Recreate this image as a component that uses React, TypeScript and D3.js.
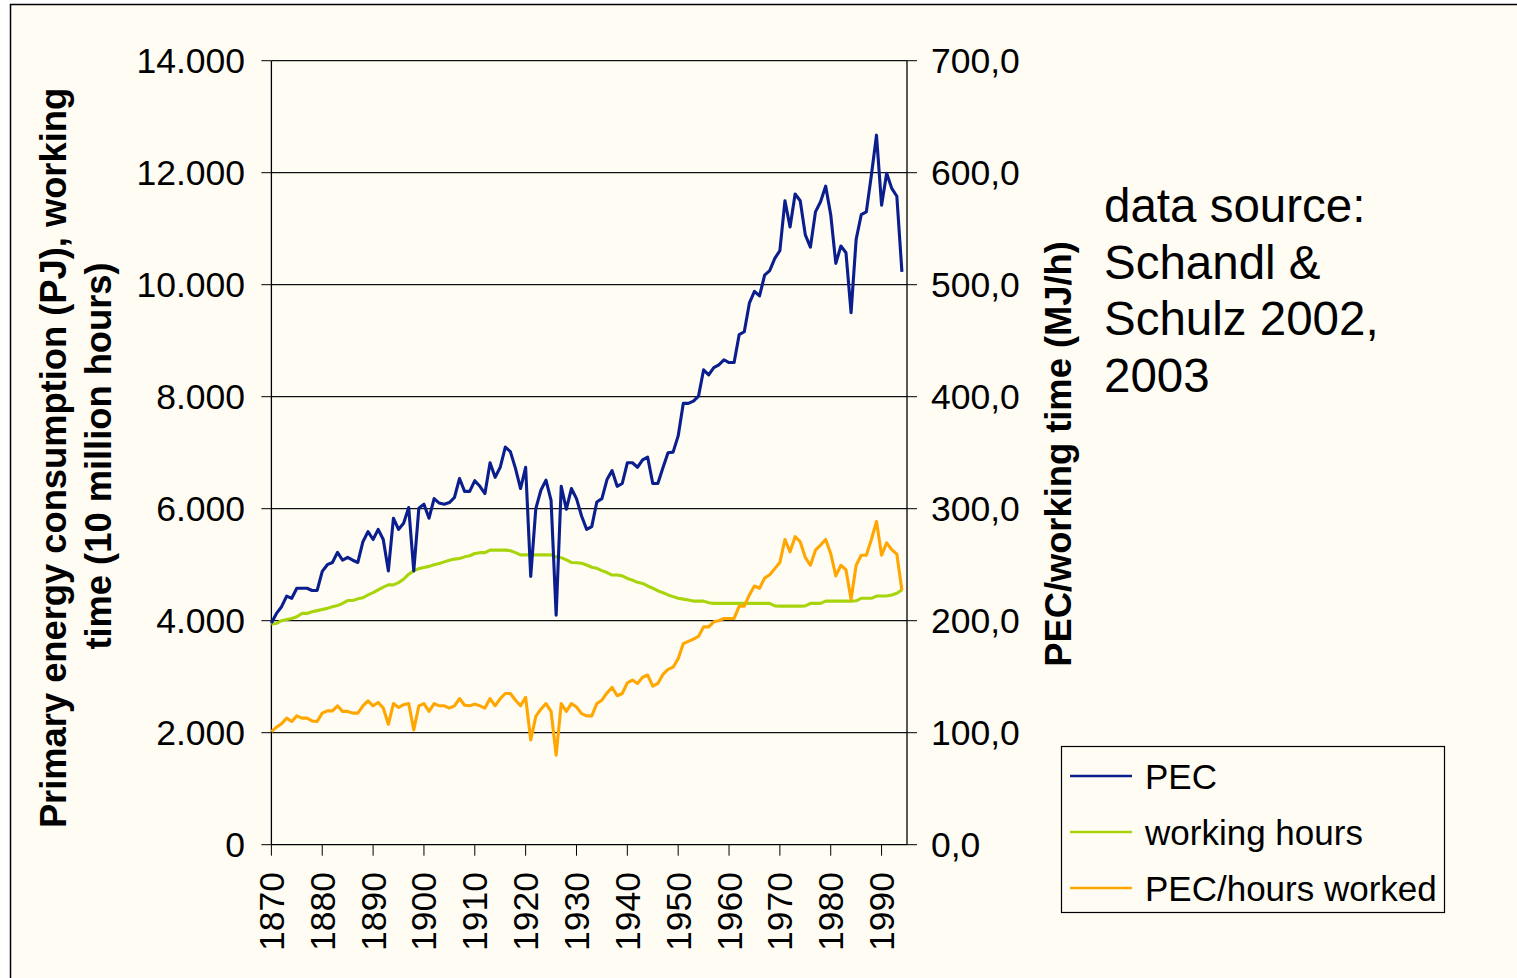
import React, { useEffect } from 'react';
import * as d3 from 'd3';

const startYear = 1870;

// PEC, PJ (left axis)
const pec = [
  3960, 4130, 4250, 4440, 4400, 4580, 4580, 4580, 4540, 4540,
  4880, 5000, 5040, 5220, 5080, 5130, 5080, 5040, 5410, 5590,
  5450, 5630, 5450, 4890, 5830, 5630, 5740, 6020, 4890, 6010,
  6080, 5830, 6180, 6100, 6080, 6110, 6200, 6540, 6310, 6310,
  6500, 6400, 6270, 6820, 6560, 6740, 7100, 7020, 6720, 6360,
  6740, 4790, 6000, 6330, 6510, 6150, 4100, 6400, 5990, 6360,
  6180, 5870, 5630, 5680, 6120, 6180, 6520, 6680, 6400, 6450,
  6820, 6820, 6740, 6870, 6920, 6450, 6450, 6730, 7000, 7010,
  7300, 7880, 7880, 7920, 8010, 8480, 8390, 8520, 8570, 8660,
  8610, 8610, 9110, 9160, 9670, 9880, 9800, 10170, 10250, 10470,
  10610, 11500, 11030, 11620, 11500, 10890, 10670, 11300, 11480, 11760,
  11250, 10380, 10690, 10570, 9500, 10810, 11250, 11300, 11960, 12670,
  11420, 11990, 11720, 11580, 10230,
];

// working hours, 10 million hours (left axis)
const workingHours = [
  3940, 3950, 4000, 4020, 4040, 4070, 4130, 4130, 4160, 4180,
  4200, 4220, 4250, 4270, 4310, 4360, 4360, 4390, 4410, 4460,
  4500, 4550, 4600, 4640, 4640, 4680, 4740, 4830, 4890, 4930,
  4950, 4970, 5000, 5020, 5050, 5080, 5100, 5110, 5140, 5160,
  5200, 5215, 5215, 5260, 5260, 5260, 5260, 5250, 5215, 5175,
  5175, 5175, 5175, 5175, 5175, 5175, 5140, 5125, 5085, 5040,
  5035, 5025, 4995, 4955, 4935, 4895, 4860, 4815, 4815, 4800,
  4755, 4725, 4685, 4665, 4620, 4580, 4535, 4500, 4460, 4430,
  4400, 4385, 4370, 4350, 4350, 4350, 4320, 4310, 4310, 4310,
  4310, 4310, 4310, 4310, 4310, 4310, 4310, 4310, 4310, 4265,
  4260, 4260, 4260, 4260, 4260, 4265, 4310, 4310, 4310, 4350,
  4350, 4350, 4350, 4350, 4350, 4355, 4400, 4400, 4400, 4440,
  4440, 4440, 4460, 4490, 4550,
];

// PEC per hour worked, MJ/h (right axis)
const pecPerHour = [
  101, 105, 108, 113, 110, 115, 113, 113, 110.5, 110,
  117.5, 119.5, 119.5, 124, 119, 119, 117.5, 117.5, 124, 128.5,
  124, 127, 122, 107.5, 126, 122.5, 125, 126, 102.5, 124,
  126, 119, 126, 124, 124, 122, 124, 130.5, 124.5, 124,
  125.5, 124, 122, 130.5, 124, 130.5, 135, 135, 129, 124,
  131.5, 93.5, 114.5, 121, 126, 119, 80, 126, 119, 126,
  123, 117, 115, 115, 126, 129, 135.5, 140.5, 133, 135,
  144.5, 147, 144, 149.5, 151.5, 141.5, 144, 152, 156.5, 158.5,
  166, 179.5, 181.5, 183.5, 186, 194.5, 194.5, 199, 200, 202,
  202, 202, 213, 213, 223, 231, 229, 238, 241, 246.5,
  252, 272.5, 261.5, 275, 270.5, 256.5, 249.5, 263, 267.5, 272.5,
  260, 240, 249.5, 245.5, 219, 249.5, 258.5, 258.5, 272.5, 288.5,
  258.5, 269.5, 263.5, 259.5, 227,
];

const leftTicks = [0, 2000, 4000, 6000, 8000, 10000, 12000, 14000];
const leftTickLabels = ['0', '2.000', '4.000', '6.000', '8.000', '10.000', '12.000', '14.000'];
const rightTicks = [0, 100, 200, 300, 400, 500, 600, 700];
const rightTickLabels = ['0,0', '100,0', '200,0', '300,0', '400,0', '500,0', '600,0', '700,0'];
const xTicks = [1870, 1880, 1890, 1900, 1910, 1920, 1930, 1940, 1950, 1960, 1970, 1980, 1990];

const seriesNames = ['PEC', 'working hours', 'PEC/hours worked'];
const seriesColors = ['#0B1E8E', '#A8D40C', '#FFA600'];
const sourceLines = ['data source:', 'Schandl &', 'Schulz 2002,', '2003'];

const font = '"Liberation Sans", Arial, sans-serif';

export default function App() {
  useEffect(() => {
    document.body.style.margin = '0';
  }, []);

  const width = 1517;
  const height = 978;
  const plot = { left: 271.4, right: 907, top: 60.7, bottom: 844.7 };

  const x = d3.scaleLinear().domain([1870, 1995]).range([plot.left, plot.right]);
  const yL = d3.scaleLinear().domain([0, 14000]).range([plot.bottom, plot.top]);
  const yR = d3.scaleLinear().domain([0, 700]).range([plot.bottom, plot.top]);

  const lineL = d3.line<number>().x((_, i) => x(startYear + i)).y((d) => yL(d));
  const lineR = d3.line<number>().x((_, i) => x(startYear + i)).y((d) => yR(d));

  const paths = [lineL(pec), lineL(workingHours), lineR(pecPerHour)];
  const drawOrder = [1, 2, 0];

  return (
    <svg width={width} height={height} style={{ display: 'block', background: '#fff' }} fontFamily={font}>
      <rect x={10.5} y={4.5} width={1600} height={1000} fill="#FFFCF4" stroke="#000" strokeWidth={1.5} />

      {/* gridlines */}
      {leftTicks.slice(1).map((t) => (
        <line key={t} x1={plot.left} x2={plot.right} y1={yL(t)} y2={yL(t)} stroke="#111" strokeWidth={1.2} />
      ))}

      {/* axes */}
      <line x1={plot.left} x2={plot.left} y1={plot.top} y2={plot.bottom} stroke="#000" strokeWidth={1.3} />
      <line x1={plot.right} x2={plot.right} y1={plot.top} y2={plot.bottom} stroke="#000" strokeWidth={1.3} />
      <line x1={plot.left} x2={plot.right} y1={plot.bottom} y2={plot.bottom} stroke="#000" strokeWidth={1.3} />

      {leftTicks.map((t, i) => (
        <g key={'l' + t}>
          <line x1={plot.left - 10} x2={plot.left} y1={yL(t)} y2={yL(t)} stroke="#000" strokeWidth={1} />
          <text x={245} y={yL(t) + 12.5} textAnchor="end" fontSize={35.5} fill="#000">{leftTickLabels[i]}</text>
        </g>
      ))}
      {rightTicks.map((t, i) => (
        <g key={'r' + t}>
          <line x1={plot.right} x2={plot.right + 10} y1={yR(t)} y2={yR(t)} stroke="#000" strokeWidth={1} />
          <text x={931} y={yR(t) + 12.5} textAnchor="start" fontSize={35.5} fill="#000">{rightTickLabels[i]}</text>
        </g>
      ))}
      {xTicks.map((t) => (
        <g key={'x' + t}>
          <line x1={x(t)} x2={x(t)} y1={plot.bottom} y2={plot.bottom + 11} stroke="#000" strokeWidth={1} />
          <text transform={`translate(${x(t) + 12.5},872) rotate(-90)`} textAnchor="end" fontSize={35.5} fill="#000">{t}</text>
        </g>
      ))}

      {/* series */}
      {drawOrder.map((k) => (
        <path key={k} d={paths[k] || ''} fill="none" stroke={seriesColors[k]} strokeWidth={3.1} strokeLinejoin="round" />
      ))}

      {/* axis titles */}
      <text transform="translate(66,458) rotate(-90)" textAnchor="middle" fontSize={36.3} fontWeight="bold" fill="#000">
        Primary energy consumption (PJ), working
      </text>
      <text transform="translate(111,456) rotate(-90)" textAnchor="middle" fontSize={36.3} fontWeight="bold" fill="#000">
        time (10 million hours)
      </text>
      <text transform="translate(1071,454) rotate(-90)" textAnchor="middle" fontSize={36.3} fontWeight="bold" fill="#000">
        PEC/working time (MJ/h)
      </text>

      {/* data source note */}
      {sourceLines.map((s, i) => (
        <text key={s} x={1104} y={222 + i * 56.7} fontSize={47.5} fill="#000">{s}</text>
      ))}

      {/* legend */}
      <rect x={1061.5} y={746.5} width={383} height={166} fill="#FFFCF4" stroke="#000" strokeWidth={1.2} />
      {seriesNames.map((n, i) => (
        <g key={n}>
          <line x1={1070} x2={1132} y1={776 + i * 56} y2={776 + i * 56} stroke={seriesColors[i]} strokeWidth={2.5} />
          <text x={1145} y={776 + i * 56 + 12.5} fontSize={35} fill="#000">{n}</text>
        </g>
      ))}
    </svg>
  );
}
